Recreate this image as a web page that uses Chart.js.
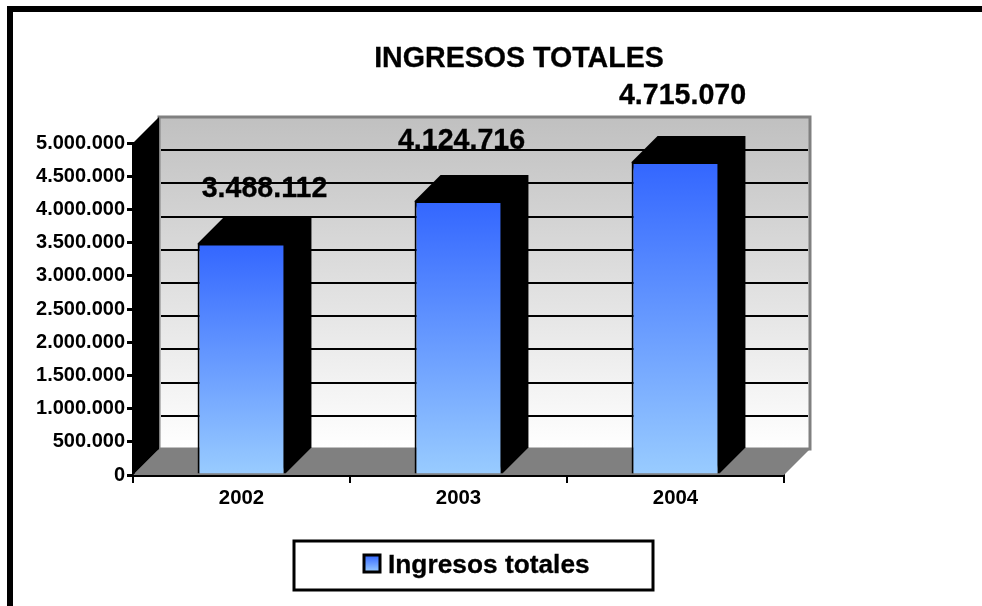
<!DOCTYPE html>
<html>
<head>
<meta charset="utf-8">
<title>Ingresos totales</title>
<script src="https://cdn.jsdelivr.net/npm/chart.js@4"></script>
<style>
  html, body { margin: 0; padding: 0; background: #fff; overflow: hidden; }
  #wrap { position: relative; width: 982px; height: 606px; }
  #frame { position: absolute; left: 7px; top: 6px; right: 0; bottom: 0; border-top: 6px solid #000; border-left: 6px solid #000; }
  canvas { position: absolute; left: 0; top: 0; }
</style>
</head>
<body>
<div id="wrap">
  <div id="frame"></div>
  <canvas id="chart" width="982" height="606"></canvas>
</div>
<script>
const years = ["2002", "2003", "2004"];
const ingresos = [3488112, 4124716, 4715070];
const seriesName = "Ingresos totales";
const chartTitle = "INGRESOS TOTALES";
const yTicks = [0, 500000, 1000000, 1500000, 2000000, 2500000, 3000000, 3500000, 4000000, 4500000, 5000000];

const FONT = '"Liberation Sans", Arial, sans-serif';
const DEPTH_X = 26;
const DEPTH_Y = 26;
// hand placed value labels, offset from the top centre of each bar
const labelShift = [[23, -54], [3, -60], [7, -66]];

const fmt = v => String(v).replace(/\B(?=(\d{3})+$)/g, ".");

function blueGradient(ctx, top, bottom) {
  const g = ctx.createLinearGradient(0, top, 0, bottom);
  g.addColorStop(0, "#3366ff");
  g.addColorStop(1, "#99ccff");
  return g;
}

function poly(ctx, pts, fill) {
  ctx.beginPath();
  pts.forEach((p, i) => (i ? ctx.lineTo(p[0], p[1]) : ctx.moveTo(p[0], p[1])));
  ctx.closePath();
  ctx.fillStyle = fill;
  ctx.fill();
}

// the original text is a little heavier than plain bold
function heavyText(ctx, text, x, y) {
  ctx.lineWidth = 0.3;
  ctx.strokeStyle = "#000";
  ctx.strokeText(text, x, y);
  ctx.fillText(text, x, y);
}

const box3dPlugin = {
  id: "box3d",
  beforeDatasetsDraw(chart) {
    const { ctx, chartArea: a, scales: { y } } = chart;
    const bx = a.left + DEPTH_X, bt = a.top - DEPTH_Y;
    const br = a.right + DEPTH_X, bb = a.bottom - DEPTH_Y;
    ctx.save();

    // back wall
    const wall = ctx.createLinearGradient(0, bt, 0, bb);
    wall.addColorStop(0, "#c0c0c0");
    wall.addColorStop(1, "#ffffff");
    ctx.fillStyle = wall;
    ctx.fillRect(bx, bt, br - bx, bb - bt);
    ctx.strokeStyle = "#808080";
    ctx.lineWidth = 3;
    ctx.strokeRect(bx, bt, br - bx, bb - bt);

    // gridlines on the wall
    ctx.strokeStyle = "#000";
    ctx.lineWidth = 2;
    yTicks.forEach(v => {
      if (v === 0 || v === 5000000) return;
      const py = Math.round(y.getPixelForValue(v)) - DEPTH_Y;
      ctx.beginPath();
      ctx.moveTo(bx + 2, py);
      ctx.lineTo(br - 2, py);
      ctx.stroke();
    });

    // floor and left wall
    poly(ctx, [[a.left, a.bottom], [bx, bb], [br, bb], [a.right, a.bottom]], "#808080");
    poly(ctx, [[a.left, a.top], [bx, bt], [bx, bb], [a.left, a.bottom]], "#000");

    // bar sides
    chart.getDatasetMeta(0).data.forEach(bar => {
      const l = bar.x - bar.width / 2, r = bar.x + bar.width / 2;
      poly(ctx, [[l, bar.y], [l + DEPTH_X, bar.y - DEPTH_Y], [r + DEPTH_X, bar.y - DEPTH_Y],
        [r + DEPTH_X, bar.base - DEPTH_Y], [r, bar.base]], "#000");
    });
    ctx.restore();
  },
  afterDatasetsDraw(chart) {
    const { ctx } = chart;
    ctx.save();
    ctx.fillStyle = "#000";
    ctx.textAlign = "center";
    ctx.textBaseline = "middle";

    ctx.font = "bold 28.6px " + FONT;
    chart.getDatasetMeta(0).data.forEach((bar, i) => {
      heavyText(ctx, fmt(ingresos[i]), bar.x + labelShift[i][0], bar.y + labelShift[i][1]);
    });

    ctx.font = "bold 28.6px " + FONT;
    heavyText(ctx, chartTitle, 519, 59);

    // legend box
    ctx.strokeStyle = "#000";
    ctx.lineWidth = 3;
    ctx.strokeRect(294, 541, 359, 49);
    ctx.fillStyle = blueGradient(ctx, 555, 572);
    ctx.fillRect(364, 555, 16, 17);
    ctx.strokeRect(364, 555, 16, 17);
    ctx.fillStyle = "#000";
    ctx.textAlign = "left";
    ctx.font = "bold 26.3px " + FONT;
    heavyText(ctx, seriesName, 388, 566);
    ctx.restore();
  }
};

new Chart(document.getElementById("chart").getContext("2d"), {
  type: "bar",
  data: {
    labels: years,
    datasets: [{
      label: seriesName,
      data: ingresos,
      barPercentage: 0.405,
      categoryPercentage: 1,
      borderColor: "#000",
      borderWidth: 2,
      backgroundColor(c) {
        const { chart, dataIndex } = c;
        const y = chart.scales.y;
        const top = y ? y.getPixelForValue(ingresos[dataIndex]) : NaN;
        const bottom = y ? y.getPixelForValue(0) : NaN;
        // scales are not laid out yet on the first pass
        if (!Number.isFinite(top) || !Number.isFinite(bottom)) return "#3366ff";
        return blueGradient(chart.ctx, top, bottom);
      }
    }]
  },
  options: {
    responsive: false,
    animation: false,
    layout: { padding: { left: 0, top: 143, right: 198, bottom: 0 } },
    plugins: { legend: { display: false }, title: { display: false }, tooltip: { enabled: false } },
    scales: {
      x: {
        afterFit(s) { s.height = 131; },
        grid: { drawOnChartArea: false, offset: true, color: "#000", lineWidth: 2, tickLength: 8 },
        border: { color: "#000", width: 3 },
        ticks: { color: "#000", padding: 3, font: { family: FONT, size: 20.4, weight: "bold" } }
      },
      y: {
        min: 0,
        max: 5000000,
        afterFit(s) { s.width = 133; },
        afterBuildTicks(s) { s.ticks = yTicks.map(value => ({ value })); },
        grid: { drawOnChartArea: false, color: "#000", lineWidth: 3, tickLength: 6 },
        border: { color: "#000", width: 3 },
        ticks: { color: "#000", padding: 2, font: { family: FONT, size: 20, weight: "bold" }, callback: v => fmt(v) }
      }
    }
  },
  plugins: [box3dPlugin]
});
</script>
</body>
</html>
